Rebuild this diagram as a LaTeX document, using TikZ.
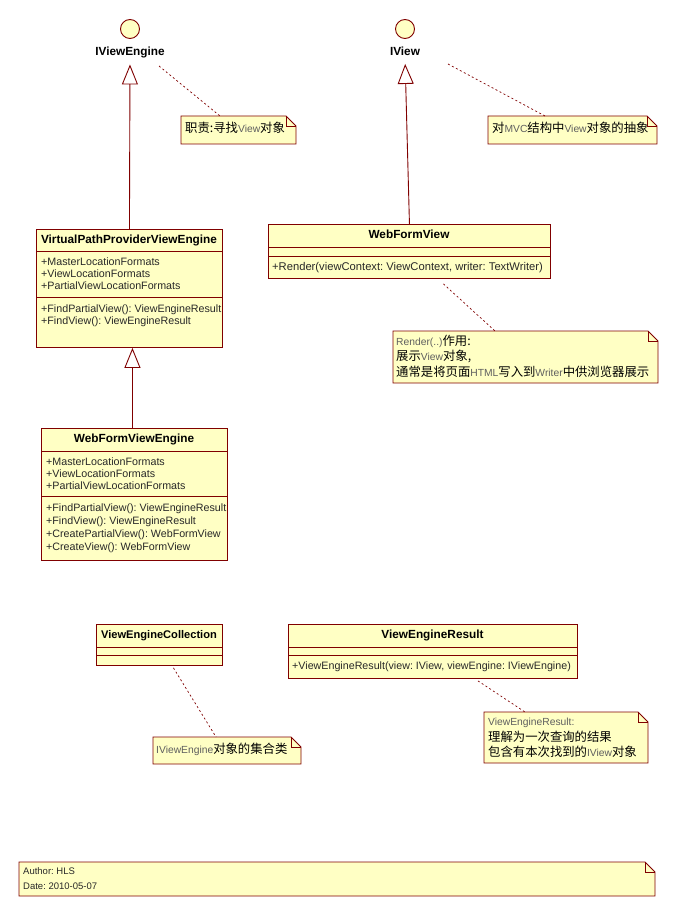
\documentclass[tikz,border=0pt]{standalone}
\usepackage{fontspec}
\setmainfont{Liberation Sans}
\newfontfamily\cjk{Noto Sans CJK SC}[Scale=1.2]
\usetikzlibrary{arrows.meta}
\definecolor{bord}{RGB}{128,0,0}
\definecolor{fillc}{RGB}{255,255,196}
\definecolor{lat}{RGB}{95,95,95}
\definecolor{memb}{RGB}{40,40,40}
\newcommand\zh[1]{{\cjk #1}}
\newcommand\la[1]{{\color{lat}#1}}
\newcommand\notebox[5]{%
  \path[fill=fillc, draw=bord, line width=0.9pt] (#2,#3) -- ({#4-10},#3) -- (#4,{#3+10}) -- (#4,#5) -- (#2,#5) -- cycle;
  \draw[bord, line width=0.7pt] ({#4-10},#3) -- ({#4-10},{#3+10}) -- (#4,{#3+10});
  \node[inner sep=0pt, minimum width={#4-#2}, minimum height={#5-#3}, anchor=north west] (#1) at (#2,#3) {};%
}
\frenchspacing
\begin{document}
\begin{tikzpicture}[x=1pt,y=-1pt,
  box/.style={draw=bord, fill=fillc, line width=0.9pt, inner sep=0pt, anchor=north west},
  sep/.style={draw=bord, line width=0.9pt},
  txt/.style={font=\fontsize{10.7}{13}\selectfont, inner sep=0pt, text height=8pt, text depth=2pt, anchor=west, text=memb},
  ntxt/.style={font=\fontsize{10.3}{12}\selectfont, inner sep=0pt, text height=8pt, text depth=2pt, anchor=west, text=black},
  ttl/.style={font=\fontsize{11.8}{14}\selectfont\bfseries, inner sep=0pt, text height=8.5pt, text depth=2pt, anchor=center, text=black},
  small/.style={ntxt, font=\fontsize{9.5}{11}\selectfont, text=memb},
  iface/.style={circle, draw=bord, fill=fillc, line width=0.9pt, minimum size=19pt, inner sep=0pt},
  gen/.style={draw=bord, line width=0.9pt, -{Triangle[open, length=20pt, width=16pt, line width=0.9pt]}},
  anchorline/.style={draw=bord, line width=0.7pt, dash pattern=on 2pt off 2.5pt},
]
\fill[white] (0,0) rectangle (679,917);
\useasboundingbox (0,0) rectangle (679,917);

% interfaces
\node[iface] (ive) at (130,29) {};
\node[ttl] (ivel) at (130,52) {IViewEngine};
\node[iface] (iv) at (405,29) {};
\node[ttl] (ivl) at (405,52) {IView};

% VirtualPathProviderViewEngine
\node[box, minimum width=186pt, minimum height=118pt] (vpp) at (36,229) {};
\draw[sep] (36,251) -- (222,251);
\draw[sep] (36,297) -- (222,297);
\node[ttl] (vppt) at (129,240) {VirtualPathProviderViewEngine};
\node[txt] (vppa1) at (41,262) {+MasterLocationFormats};
\node[txt] (vppa2) at (41,274) {+ViewLocationFormats};
\node[txt] (vppa3) at (41,286) {+PartialViewLocationFormats};
\node[txt] (vppm1) at (41,309) {+FindPartialView(): ViewEngineResult};
\node[txt] (vppm2) at (41,321) {+FindView(): ViewEngineResult};

% WebFormViewEngine
\node[box, minimum width=186pt, minimum height=132pt] (wfve) at (41,428) {};
\draw[sep] (41,451) -- (227,451);
\draw[sep] (41,496) -- (227,496);
\node[ttl] (wfvet) at (134,439) {WebFormViewEngine};
\node[txt] (wfvea1) at (46,462) {+MasterLocationFormats};
\node[txt] (wfvea2) at (46,474) {+ViewLocationFormats};
\node[txt] (wfvea3) at (46,486) {+PartialViewLocationFormats};
\node[txt] (wfvem1) at (46,508) {+FindPartialView(): ViewEngineResult};
\node[txt] (wfvem2) at (46,521) {+FindView(): ViewEngineResult};
\node[txt] (wfvem3) at (46,534) {+CreatePartialView(): WebFormView};
\node[txt] (wfvem4) at (46,547) {+CreateView(): WebFormView};

% WebFormView
\node[box, minimum width=282pt, minimum height=54pt] (wfv) at (268,224) {};
\draw[sep] (268,247) -- (550,247);
\draw[sep] (268,256) -- (550,256);
\node[ttl] (wfvt) at (409,235) {WebFormView};
\node[txt, font=\fontsize{11.2}{13}\selectfont] (wfvm1) at (272,267) {+Render(viewContext: ViewContext, writer: TextWriter)};

% ViewEngineCollection
\node[box, minimum width=126pt, minimum height=41pt] (vec) at (96,624) {};
\draw[sep] (96,647) -- (222,647);
\draw[sep] (96,655) -- (222,655);
\node[ttl, font=\fontsize{11.1}{14}\selectfont\bfseries] (vect) at (159,635) {ViewEngineCollection};

% ViewEngineResult
\node[box, minimum width=289pt, minimum height=54pt] (ver) at (288,624) {};
\draw[sep] (288,647) -- (577,647);
\draw[sep] (288,655) -- (577,655);
\node[ttl] (vert) at (432.5,635) {ViewEngineResult};
\node[txt] (verm1) at (292,666) {+ViewEngineResult(view: IView, viewEngine: IViewEngine)};

% generalizations
\draw[gen, shorten >=7pt] (vpp.north) -- (ivel.south);
\draw[gen, shorten >=6.5pt] (wfv.north) -- (ivl.south);
\draw[gen] ([xshift=-2pt]wfve.north) -- ([xshift=3pt]vpp.south);

% notes
\notebox{n1}{181}{116}{296}{144}
\node[ntxt] (n1t) at (185,130) {\zh{职责:寻找}\la{View}\zh{对象}};
\notebox{n2}{488}{116}{657}{144}
\node[ntxt] (n2t) at (492,130) {\zh{对}\la{MVC}\zh{结构中}\la{View}\zh{对象的抽象}};
\notebox{n3}{393}{331}{658}{383}
\node[ntxt] (n3a) at (396,342) {\la{Render(..)}\zh{作用:}};
\node[ntxt] (n3b) at (396,357) {\zh{展示}\la{View}\zh{对象,}};
\node[ntxt] (n3c) at (396,373) {\zh{通常是将页面}\la{HTML}\zh{写入到}\la{Writer}\zh{中供浏览器展示}};
\notebox{n4}{153}{737}{301}{764}
\node[ntxt] (n4t) at (156,750) {\la{IViewEngine}\zh{对象的集合类}};
\notebox{n5}{484}{712}{648}{763}
\node[ntxt] (n5a) at (488,722) {\la{ViewEngineResult:}};
\node[ntxt] (n5b) at (488,738) {\zh{理解为一次查询的结果}};
\node[ntxt] (n5c) at (488,753) {\zh{包含有本次找到的}\la{IView}\zh{对象}};
\notebox{n6}{19}{862}{655}{896}
\node[small] (n6a) at (23,871) {Author: HLS};
\node[small] (n6b) at (23,886) {Date: 2010-05-07};

% note anchors
\draw[anchorline] ([xshift=29pt,yshift=-14pt]ivel.center) -- ([xshift=39pt]n1.north west);
\draw[anchorline] ([xshift=43pt,yshift=-12pt]ivl.center) -- ([xshift=57pt]n2.north west);
\draw[anchorline] ([xshift=34pt,yshift=-5pt]wfv.south) -- ([xshift=102pt]n3.north west);
\draw[anchorline] ([xshift=14pt,yshift=-2pt]vec.south) -- ([xshift=63pt]n4.north west);
\draw[anchorline] ([xshift=45pt,yshift=-2pt]ver.south) -- ([xshift=41pt]n5.north west);
\end{tikzpicture}
\end{document}
